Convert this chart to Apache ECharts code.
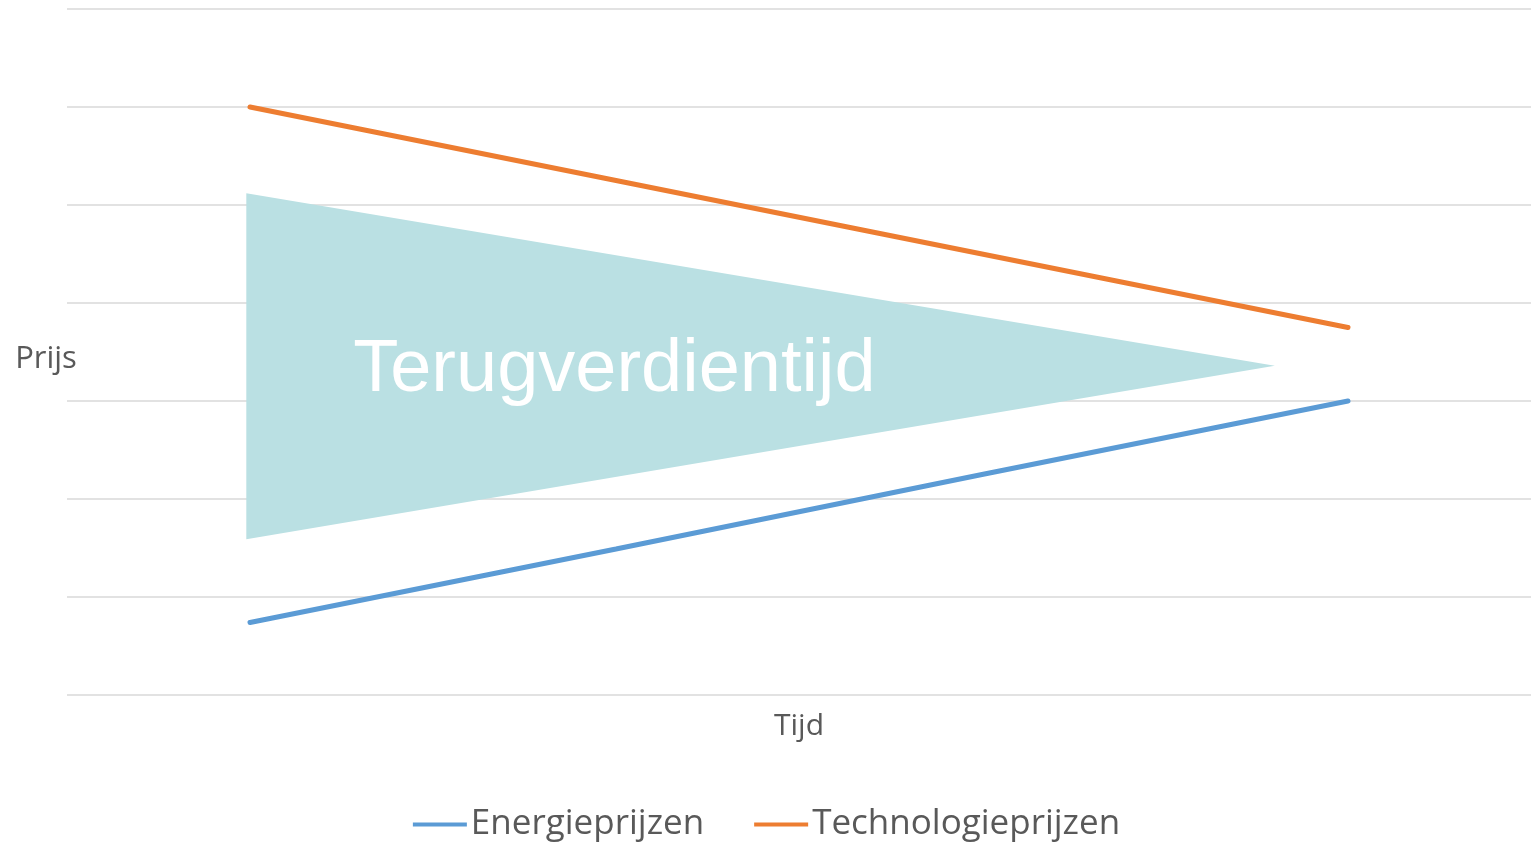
<!DOCTYPE html>
<html>
<head>
<meta charset="utf-8">
<style>
  html, body { margin: 0; padding: 0; background: #fff; }
  #chart { width: 1533px; height: 847px; }
</style>
<script src="https://cdn.jsdelivr.net/npm/echarts@6/dist/echarts.min.js"></script>
</head>
<body>
<div id="chart"></div>
<script>
// time steps (x positions of the points, categories 1..4)
const tijd = [0, 1, 2, 3];
const energieprijzen = [0.74, 1.49, 2.25, 3.0];
const technologieprijzen = [6.0, 5.25, 4.5, 3.75];

// payback wedge, corners in data units
const wedgeX = [-0.01, 2.8, -0.01];
const wedgeY = [5.12, 3.36, 1.59];
const wedgeLabel = "Terugverdientijd";

const GREY = "#595959";
const FONT = "'Open Sans', sans-serif";

const chart = echarts.init(document.getElementById("chart"));

function pairs(xs, ys) {
  return xs.map((x, i) => [x, ys[i]]);
}

chart.setOption({
  animation: false,
  grid: { left: 67, right: 2, top: 9, bottom: 152 },
  legend: {
    data: ["Energieprijzen", "Technologieprijzen"],
    bottom: 0,
    left: "center",
    icon: "rect",
    itemWidth: 54,
    itemHeight: 4,
    itemGap: 50,
    textStyle: { color: GREY, fontSize: 35, fontFamily: FONT, padding: [0, 0, 0, -1] },
  },
  xAxis: {
    type: "value",
    min: -0.5,
    max: 3.5,
    name: "Tijd",
    nameLocation: "middle",
    nameGap: 31,
    nameTextStyle: { color: GREY, fontSize: 30, fontFamily: FONT, verticalAlign: "middle" },
    axisLine: { show: false },
    axisTick: { show: false },
    axisLabel: { show: false },
    splitLine: { show: false },
  },
  yAxis: {
    type: "value",
    min: 0,
    max: 7,
    interval: 1,
    name: "{p|Prijs}",
    nameLocation: "middle",
    nameRotate: 0,
    nameGap: 21,
    nameTextStyle: {
      align: "center", verticalAlign: "middle",
      rich: {
        p: { color: GREY, fontSize: 31, fontFamily: FONT, padding: [14, 0, 0, 0] },
      },
    },
    axisLine: { show: false },
    axisTick: { show: false },
    axisLabel: { show: false },
    splitLine: { lineStyle: { color: "#d9d9d9", width: 1.5 } },
  },
  series: [
    {
      type: "custom",
      name: "wedge",
      z: 1,
      silent: true,
      data: [[0]],
      renderItem: (params, api) => {
        const pts = wedgeX.map((x, i) => api.coord([x, wedgeY[i]]));
        const anchor = api.coord([0.282, 3.31]);
        return {
          type: "group",
          children: [
            {
              type: "polygon",
              shape: { points: pts },
              style: { fill: "#BAE0E3" },
            },
            {
              type: "text",
              x: anchor[0],
              y: anchor[1],
              style: {
                text: wedgeLabel,
                fill: "#ffffff",
                fontSize: 74,
                fontFamily: "'Liberation Sans', Arial, sans-serif",
                align: "left",
                verticalAlign: "middle",
              },
            },
          ],
        };
      },
    },
    {
      type: "line",
      name: "Energieprijzen",
      z: 3,
      data: pairs(tijd, energieprijzen),
      showSymbol: false,
      color: "#5B9BD5",
      lineStyle: { width: 5, cap: "round", color: "#5B9BD5" },
    },
    {
      type: "line",
      name: "Technologieprijzen",
      z: 3,
      data: pairs(tijd, technologieprijzen),
      showSymbol: false,
      color: "#ED7D31",
      lineStyle: { width: 5, cap: "round", color: "#ED7D31" },
    },
  ],
});
</script>
</body>
</html>
